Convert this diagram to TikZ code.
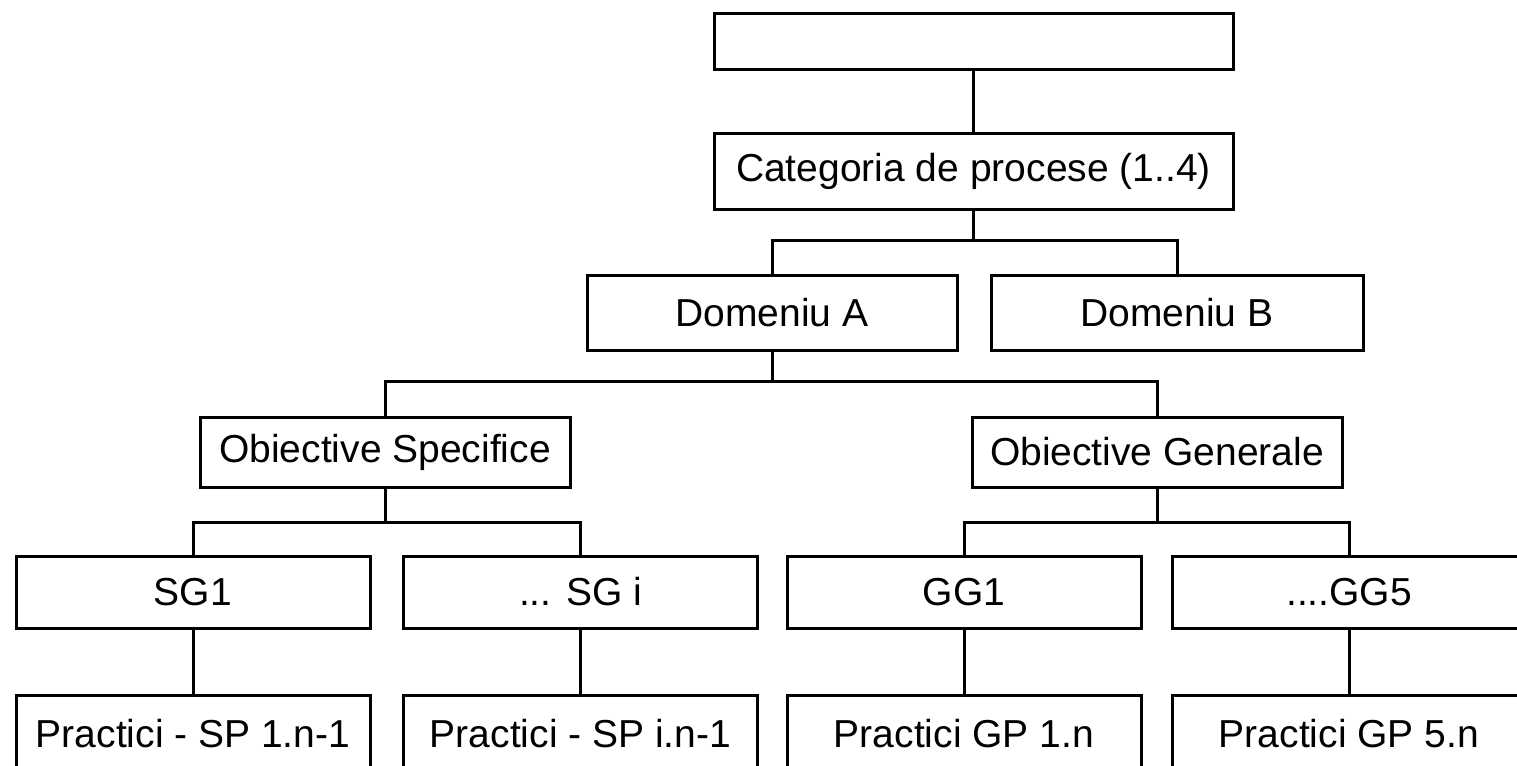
\documentclass[tikz,border=0pt]{standalone}
\usepackage{fontspec}
\setmainfont{Liberation Sans}
\usetikzlibrary{positioning}

\tikzset{
  box/.style={draw, line width=1.5pt, rectangle, inner sep=0pt,
    minimum width=#1, font=\fontsize{19.5}{22}\selectfont},
  box/.default=177pt,
  link/.style={line width=1.5pt}
}

\begin{document}
\begin{tikzpicture}[x=0.5pt,y=-0.5pt]
\clip (0,0) rectangle (1517,766);
\fill[white] (0,0) rectangle (1517,766);
% top levels
\node[box=259.5pt, minimum height=28pt] (top) at (973.5,41) {};
\node[box=259.5pt, minimum height=38pt] (cat) at (973.5,171) {Categoria de procese (1..4)};
\node[box=185pt, minimum height=37.5pt] (domA) at (772,312.5) {Domeniu A};
\node[box=186pt, minimum height=37.5pt] (domB) at (1177,312.5) {Domeniu B};
% objectives
\node[box=185pt, minimum height=35pt] (os) at (385,452) {Obiective Specifice};
\node[box=185pt, minimum height=35pt] (og) at (1157,452) {Obiective Generale};
% goals
\node[box, minimum height=36pt] (sg1) at (193,592) {SG1};
\node[box, minimum height=36pt] (sgi) at (580.5,592) {... SG i};
\node[box, minimum height=36pt] (gg1) at (964,592) {GG1};
\node[box, minimum height=36pt] (gg5) at (1349,592) {....GG5};
% practices
\node[box, minimum height=38pt, anchor=north] (sp1) at (193,694) {Practici - SP 1.n-1};
\node[box, minimum height=38pt, anchor=north] (spi) at (580.5,694) {Practici - SP i.n-1};
\node[box, minimum height=38pt, anchor=north] (gp1) at (964,694) {Practici GP 1.n};
\node[box, minimum height=38pt, anchor=north] (gp5) at (1349,694) {Practici GP 5.n};

\coordinate (j1) at (973.5,240);
\coordinate (j2) at (772,381);
\coordinate (j3) at (385,522);
\coordinate (j4) at (1157,522);

\draw[link] (top) -- (cat);
\draw[link] (cat) -- (j1);
\draw[link] (domA.north) |- (j1) -| (domB.north);
\draw[link] (domA) -- (j2);
\draw[link] (os.north) |- (j2) -| (og.north);
\draw[link] (os) -- (j3);
\draw[link] (sg1.north) |- (j3) -| (sgi.north);
\draw[link] (og) -- (j4);
\draw[link] (gg1.north) |- (j4) -| (gg5.north);
\draw[link] (sg1) -- (sp1);
\draw[link] (sgi) -- (spi);
\draw[link] (gg1) -- (gp1);
\draw[link] (gg5) -- (gp5);
\end{tikzpicture}
\end{document}
